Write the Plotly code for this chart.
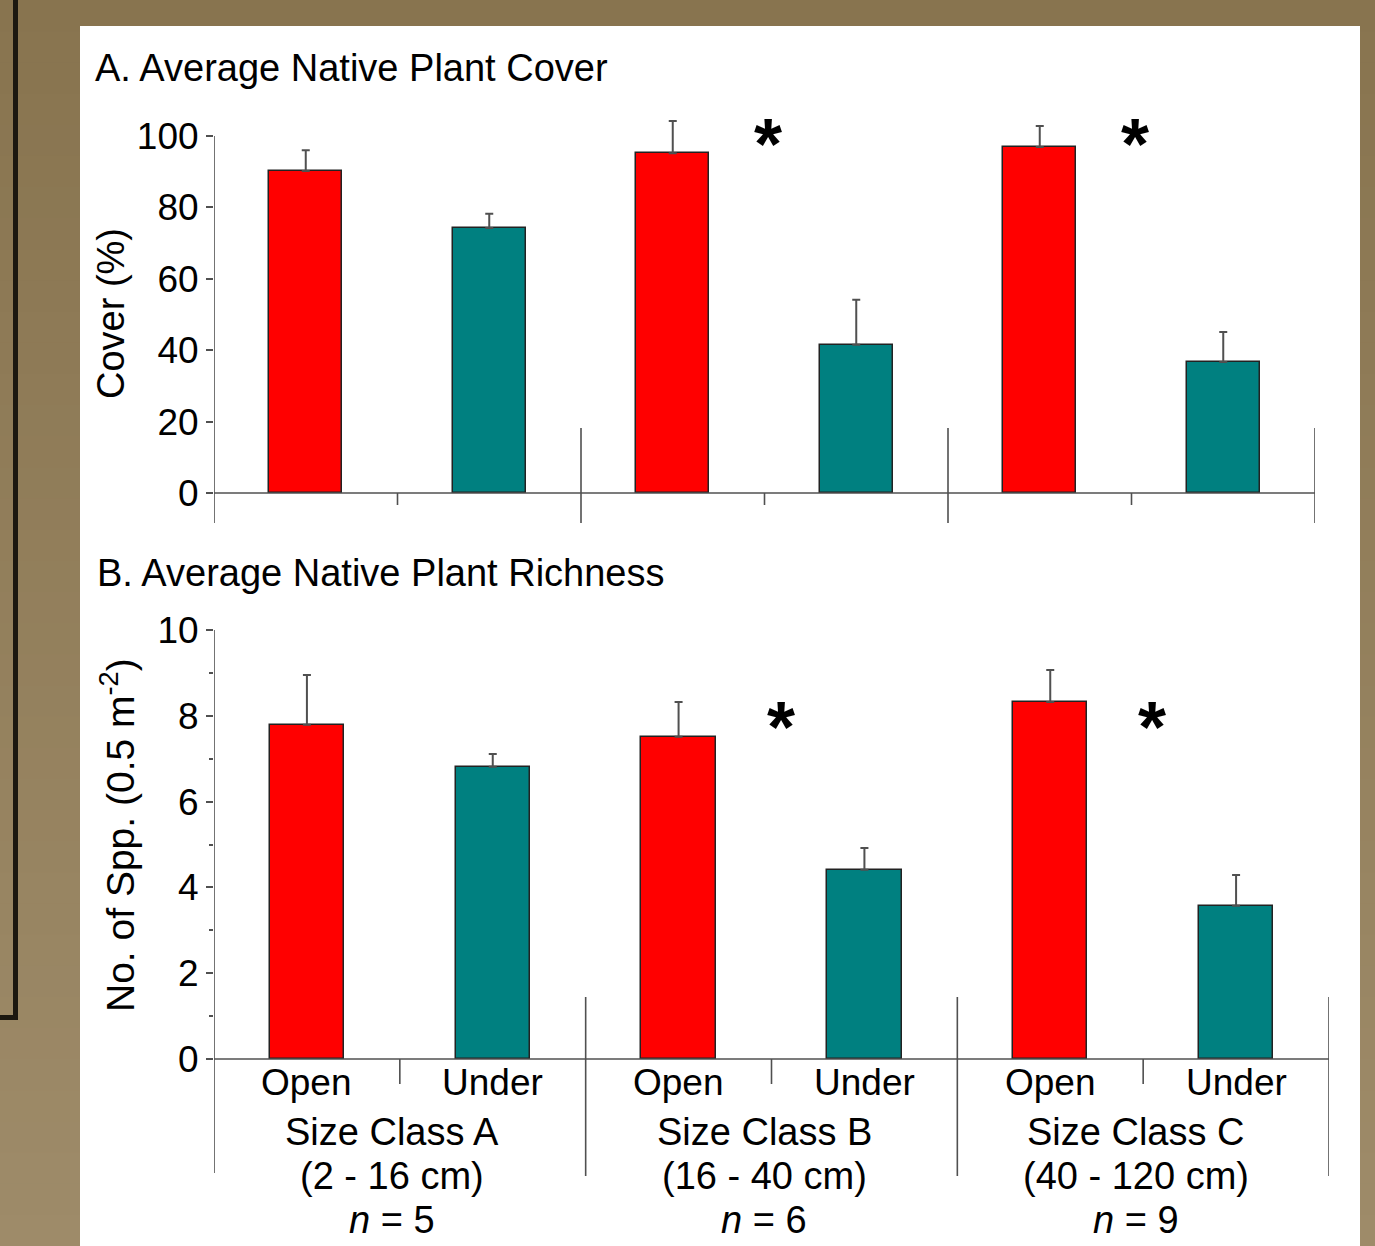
import plotly.graph_objects as go

W, H = 1375, 1246

# ---------------- data ----------------
bar_labels = ["Open", "Under", "Open", "Under", "Open", "Under"]
size_classes = ["Size Class A", "Size Class B", "Size Class C"]
size_ranges = ["(2 - 16 cm)", "(16 - 40 cm)", "(40 - 120 cm)"]
n_values = [5, 6, 9]

cover_mean = [90.2, 74.2, 95.2, 41.5, 96.9, 36.7]
cover_err = [5.8, 4.0, 9.0, 12.6, 5.9, 8.4]

rich_mean = [7.79, 6.81, 7.51, 4.41, 8.32, 3.57]
rich_err = [1.16, 0.30, 0.81, 0.51, 0.75, 0.72]

bar_colors = ["#FF0000", "#008080", "#FF0000", "#008080", "#FF0000", "#008080"]
signif_groups = [1, 2]  # groups marked with *

FONT = "Liberation Sans, Arial, sans-serif"
AX = "#505050"

def px_x(p):
    return p / W

def px_y(p):
    return 1 - p / H

xs = list(range(len(bar_labels)))

fig = go.Figure()

# -------- background gradient & panel ----------
shapes = []
nb = 40
top_c = (136, 116, 79)
bot_c = (158, 139, 105)
for i in range(nb):
    t = i / (nb - 1)
    c = tuple(int(round(top_c[k] + (bot_c[k] - top_c[k]) * t)) for k in range(3))
    shapes.append(dict(type="rect", xref="paper", yref="paper",
                       x0=0, x1=1, y0=px_y((i + 1) * H / nb + 1), y1=px_y(i * H / nb),
                       fillcolor="rgb(%d,%d,%d)" % c, line=dict(width=0), layer="below"))
shapes.append(dict(type="rect", xref="paper", yref="paper",
                   x0=px_x(80), x1=px_x(1360), y0=0, y1=px_y(26),
                   fillcolor="white", line=dict(width=0), layer="below"))
shapes.append(dict(type="path", xref="paper", yref="paper",
                   path="M %f,%f L %f,%f L %f,%f" % (px_x(15.5), px_y(-5), px_x(15.5), px_y(1017.5), px_x(-5), px_y(1017.5)),
                   line=dict(color="#1c1810", width=5), layer="below"))

# -------- bars ----------
fig.add_trace(go.Bar(
    x=xs, y=cover_mean, width=0.40, marker=dict(color=bar_colors, line=dict(color="#222", width=1.5)),
    error_y=dict(type="data", symmetric=False, array=cover_err, arrayminus=[0] * 6,
                 color=AX, thickness=2, width=4),
    xaxis="x", yaxis="y", showlegend=False))
fig.add_trace(go.Bar(
    x=xs, y=rich_mean, width=0.40, marker=dict(color=bar_colors, line=dict(color="#222", width=1.5)),
    error_y=dict(type="data", symmetric=False, array=rich_err, arrayminus=[0] * 6,
                 color=AX, thickness=2, width=4),
    xaxis="x2", yaxis="y2", showlegend=False))

# -------- axes geometry ----------
# Panel A: y=0 at px 493, y=100 at px 136
a_scale = (493 - 136) / 100
a_top_px, a_bot_px = 100, 532
a_range = [(493 - a_bot_px) / a_scale, (493 - a_top_px) / a_scale]
# Panel B: y=0 at px 1059, y=10 at px 630
b_scale = (1059 - 630) / 10
b_top_px, b_bot_px = 600, 1182
b_range = [(1059 - b_bot_px) / b_scale, (1059 - b_top_px) / b_scale]

tickfont = dict(family=FONT, size=37, color="black")

fig.update_layout(
    width=W, height=H, margin=dict(l=0, r=0, t=0, b=0), autosize=False,
    paper_bgcolor="white", plot_bgcolor="rgba(0,0,0,0)",
    bargap=0,
    xaxis=dict(domain=[px_x(214), px_x(1315)], range=[-0.5, 5.5], showgrid=False, zeroline=False,
               showline=False, showticklabels=False, ticks="", anchor="y"),
    yaxis=dict(domain=[px_y(a_bot_px), px_y(a_top_px)], range=a_range, showgrid=False, zeroline=False,
               showline=False, tickvals=[0, 20, 40, 60, 80, 100], ticks="outside", ticklen=7,
               tickwidth=1.5, tickcolor=AX, tickfont=tickfont, ticklabelstandoff=0, anchor="x"),
    xaxis2=dict(domain=[px_x(214), px_x(1329)], range=[-0.5, 5.5], showgrid=False, zeroline=False,
                showline=False, showticklabels=False, ticks="", anchor="y2"),
    yaxis2=dict(domain=[px_y(b_bot_px), px_y(b_top_px)], range=b_range, showgrid=False, zeroline=False,
                showline=False, tickvals=[0, 2, 4, 6, 8, 10], ticks="outside", ticklen=7,
                tickwidth=1.5, tickcolor=AX, tickfont=tickfont, ticklabelstandoff=0, anchor="x2",
                minor=dict(tickvals=[1, 3, 5, 7, 9], ticks="outside", ticklen=4, tickwidth=1.5, tickcolor=AX)),
)

line = dict(color=AX, width=1.6)
# Panel A axis lines
shapes.append(dict(type="line", xref="x", yref="y", x0=-0.5, x1=-0.5, y0=100, y1=(493 - 523) / a_scale, line=line))
shapes.append(dict(type="line", xref="x", yref="y", x0=-0.5, x1=5.5, y0=0, y1=0, line=line))
for g in range(3):
    sx = 1.5 + 2 * g
    shapes.append(dict(type="line", xref="x", yref="y", x0=sx, x1=sx, y0=(493 - 428) / a_scale,
                       y1=(493 - 523) / a_scale, line=line))
    mx = 0.5 + 2 * g
    shapes.append(dict(type="line", xref="x", yref="y", x0=mx, x1=mx, y0=0, y1=-12 / a_scale, line=line))
# Panel B axis lines
shapes.append(dict(type="line", xref="x2", yref="y2", x0=-0.5, x1=-0.5, y0=10, y1=(1059 - 1173) / b_scale, line=line))
shapes.append(dict(type="line", xref="x2", yref="y2", x0=-0.5, x1=5.5, y0=0, y1=0, line=line))
for g in range(3):
    sx = 1.5 + 2 * g
    shapes.append(dict(type="line", xref="x2", yref="y2", x0=sx, x1=sx, y0=(1059 - 997) / b_scale,
                       y1=(1059 - 1176) / b_scale, line=line))
    mx = 0.5 + 2 * g
    shapes.append(dict(type="line", xref="x2", yref="y2", x0=mx, x1=mx, y0=0, y1=-25 / b_scale, line=line))

fig.update_layout(shapes=shapes)

# -------- annotations ----------
ann = []
txt = dict(family=FONT, size=38, color="black")
txt_small = dict(family=FONT, size=37, color="black")
ann.append(dict(text="A. Average Native Plant Cover", xref="paper", yref="paper",
                x=px_x(93), y=px_y(68), xanchor="left", yanchor="middle", showarrow=False, font=txt))
ann.append(dict(text="B. Average Native Plant Richness", xref="paper", yref="paper",
                x=px_x(95), y=px_y(573), xanchor="left", yanchor="middle", showarrow=False, font=txt))
ann.append(dict(text="Cover (%)", xref="paper", yref="paper", textangle=-90,
                x=px_x(111), y=px_y(314), xanchor="center", yanchor="middle", showarrow=False, font=txt))
ann.append(dict(text="No. of Spp. (0.5 m<sup>-2</sup>)", xref="paper", yref="paper", textangle=-90,
                x=px_x(117), y=px_y(835), xanchor="center", yanchor="middle", showarrow=False,
                font=dict(family=FONT, size=39, color="black")))

for i, lab in enumerate(bar_labels):
    ann.append(dict(text=lab, xref="x2", yref="paper", x=i, y=px_y(1082),
                    xanchor="center", yanchor="middle", showarrow=False, font=txt_small))
for g in range(3):
    cx = 0.5 + 2 * g - 0.04
    ann.append(dict(text=size_classes[g], xref="x2", yref="paper", x=cx, y=px_y(1132),
                    xanchor="center", yanchor="middle", showarrow=False, font=txt))
    ann.append(dict(text=size_ranges[g], xref="x2", yref="paper", x=cx, y=px_y(1176),
                    xanchor="center", yanchor="middle", showarrow=False, font=txt))
    ann.append(dict(text="<i>n</i> = %d" % n_values[g], xref="x2", yref="paper", x=cx, y=px_y(1220),
                    xanchor="center", yanchor="middle", showarrow=False, font=txt))

star = dict(family=FONT, size=72, color="black")
for g in signif_groups:
    ann.append(dict(text="<b>*</b>", xref="x", yref="paper", x=0.52 + 2 * g, y=px_y(144),
                    xanchor="center", yanchor="middle", showarrow=False, font=star))
    ann.append(dict(text="<b>*</b>", xref="x2", yref="paper", x=0.55 + 2 * g, y=px_y(727),
                    xanchor="center", yanchor="middle", showarrow=False, font=star))

fig.update_layout(annotations=ann)

fig.write_html("out.html")
